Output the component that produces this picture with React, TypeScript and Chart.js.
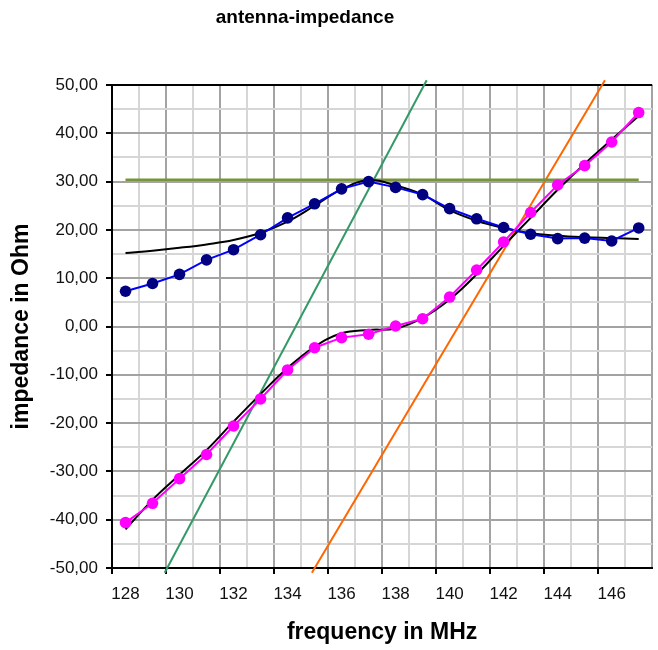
import React, { useEffect, useRef } from 'react';
import { Chart, registerables } from 'chart.js';

Chart.register(...registerables);

// ---- data ----
const frequencies = [128, 129, 130, 131, 132, 133, 134, 135, 136, 137, 138, 139, 140, 141, 142, 143, 144, 145, 146, 147];
const realMeasured = [7.3, 8.9, 10.8, 13.8, 15.9, 19.0, 22.5, 25.4, 28.5, 30.0, 28.8, 27.3, 24.4, 22.3, 20.5, 19.1, 18.2, 18.3, 17.7, 20.4];
const realFit = [15.2, 15.7, 16.3, 17.0, 17.9, 19.4, 21.7, 25.0, 28.4, 30.3, 29.2, 27.3, 24.1, 21.9, 20.4, 19.3, 18.8, 18.5, 18.3, 18.1];
const imagMeasured = [-40.6, -36.6, -31.5, -26.5, -20.6, -15.0, -9.0, -4.4, -2.3, -1.6, 0.1, 1.6, 6.1, 11.7, 17.5, 23.6, 29.3, 33.3, 38.2, 44.3];
const imagFit = [-42.0, -35.9, -30.7, -25.6, -19.7, -14.0, -8.6, -4.2, -1.4, -0.7, -0.4, 1.8, 5.6, 10.8, 16.7, 22.5, 28.3, 33.7, 38.7, 43.6];
const levelX = [128, 147];
const levelY = [30.4, 30.4];
const greenTangentX = [129.45, 139.15];
const greenTangentY = [-51, 51];
const orangeTangentX = [134.9, 145.75];
const orangeTangentY = [-51, 51];
const yTickValues = [-50, -40, -30, -20, -10, 0, 10, 20, 30, 40, 50];
const xLabelValues = [128, 130, 132, 134, 136, 138, 140, 142, 144, 146];

const FONT = "'Liberation Sans', Arial, Helvetica, sans-serif";
const MAJOR = '#a3a3a3';
const MINOR = '#d6d6d6';
const TITLE_CENTER_X = 305;

const pts = (xs: number[], ys: number[]) => xs.map((x, i) => ({ x, y: ys[i] }));

const titleShift = {
  id: 'titleShift',
  afterLayout(chart: any) {
    const tb = chart.titleBlock;
    if (tb) {
      tb.left = 0;
      tb.right = TITLE_CENTER_X * 2;
      tb.width = TITLE_CENTER_X * 2;
    }
  },
};

export default function App() {
  const ref = useRef<HTMLCanvasElement | null>(null);

  useEffect(() => {
    if (!ref.current) return;
    const chart = new Chart(ref.current, {
      type: 'line',
      data: {
        datasets: [
          {
            label: 'imaginary part',
            data: pts(frequencies, imagMeasured),
            borderColor: '#FF00FF',
            backgroundColor: '#FF00FF',
            pointBackgroundColor: '#FF00FF',
            pointBorderColor: '#FF00FF',
            pointRadius: 5.8,
            pointBorderWidth: 0,
            borderWidth: 2,
            tension: 0,
            order: 1,
          },
          {
            label: 'real part',
            data: pts(frequencies, realMeasured),
            borderColor: '#0000FF',
            backgroundColor: '#000080',
            pointBackgroundColor: '#000080',
            pointBorderColor: '#000080',
            pointRadius: 5.8,
            pointBorderWidth: 0,
            borderWidth: 2,
            tension: 0,
            order: 1,
          },
          {
            label: 'real fit',
            data: pts(frequencies, realFit),
            borderColor: '#000000',
            borderWidth: 2,
            pointRadius: 0,
            tension: 0.4,
            order: 2,
          },
          {
            label: 'imaginary fit',
            data: pts(frequencies, imagFit),
            borderColor: '#000000',
            borderWidth: 2,
            pointRadius: 0,
            tension: 0.4,
            order: 2,
          },
          {
            label: 'level',
            data: pts(levelX, levelY),
            borderColor: '#77933C',
            borderWidth: 2.5,
            pointRadius: 0,
            order: 3,
          },
          {
            label: 'tangent real',
            data: pts(greenTangentX, greenTangentY),
            borderColor: '#339966',
            borderWidth: 2,
            pointRadius: 0,
            clip: false as any,
            order: 3,
          },
          {
            label: 'tangent imaginary',
            data: pts(orangeTangentX, orangeTangentY),
            borderColor: '#FF6600',
            borderWidth: 2,
            pointRadius: 0,
            clip: false as any,
            order: 3,
          },
        ],
      },
      options: {
        responsive: false,
        animation: false,
        events: [],
        layout: { padding: 0 },
        plugins: {
          legend: { display: false },
          tooltip: { enabled: false },
          title: {
            display: true,
            text: 'antenna-impedance',
            color: '#000',
            font: { family: FONT, size: 19, weight: 'bold', lineHeight: 1.2 },
            padding: { top: 6, bottom: 85 - 6 - 22.8 },
          },
        },
        scales: {
          x: {
            type: 'linear',
            min: 127.5,
            max: 147.5,
            afterBuildTicks: (s: any) => {
              s.ticks = frequencies.map((v) => ({ value: v }));
            },
            afterFit: (s: any) => {
              s.height = 82;
            },
            ticks: {
              autoSkip: false,
              maxRotation: 0,
              minRotation: 0,
              padding: 10,
              color: '#111',
              font: { family: FONT, size: 17 },
              callback: (v: any) => (xLabelValues.includes(Number(v)) ? String(v) : ''),
            },
            grid: {
              offset: true,
              lineWidth: 2,
              color: (ctx: any) => (ctx.index !== undefined && ctx.index % 2 === 1 ? MINOR : MAJOR),
              tickColor: (ctx: any) => (ctx.index !== undefined && ctx.index % 2 === 0 ? '#000' : 'rgba(0,0,0,0)'),
              tickLength: 6,
              tickWidth: 2,
            },
            border: { color: '#000', width: 2 },
            title: {
              display: true,
              text: 'frequency in MHz',
              color: '#000',
              font: { family: FONT, size: 23, weight: 'bold', lineHeight: 1.2 },
              padding: { top: 0, bottom: 4 },
            },
          },
          y: {
            type: 'linear',
            min: -50,
            max: 50,
            afterFit: (s: any) => {
              s.width = 112;
            },
            ticks: {
              stepSize: 5,
              autoSkip: false,
              padding: 8,
              color: '#111',
              font: { family: FONT, size: 17 },
              callback: (v: any) =>
                yTickValues.includes(Number(v)) ? Number(v).toFixed(2).replace('.', ',') : '',
            },
            grid: {
              lineWidth: 2,
              color: (ctx: any) => {
                const v = ctx.tick ? ctx.tick.value : 0;
                if (v === 50) return '#000';
                return v % 10 === 0 ? MAJOR : MINOR;
              },
              tickColor: (ctx: any) => {
                const v = ctx.tick ? ctx.tick.value : 1;
                return v % 10 === 0 ? '#000' : 'rgba(0,0,0,0)';
              },
              tickLength: 6,
              tickWidth: 2,
            },
            border: { color: '#000', width: 2 },
            title: {
              display: true,
              text: 'impedance in Ohm',
              color: '#000',
              font: { family: FONT, size: 23, weight: 'bold', lineHeight: 1.2 },
              padding: { top: 8, bottom: 0 },
            },
          },
        },
      },
      plugins: [titleShift],
    } as any);
    return () => chart.destroy();
  }, []);

  return (
    <div style={{ position: 'fixed', left: 0, top: 0, width: 658, height: 650, background: '#fff' }}>
      <canvas ref={ref} width={658} height={650} style={{ display: 'block' }} />
    </div>
  );
}
